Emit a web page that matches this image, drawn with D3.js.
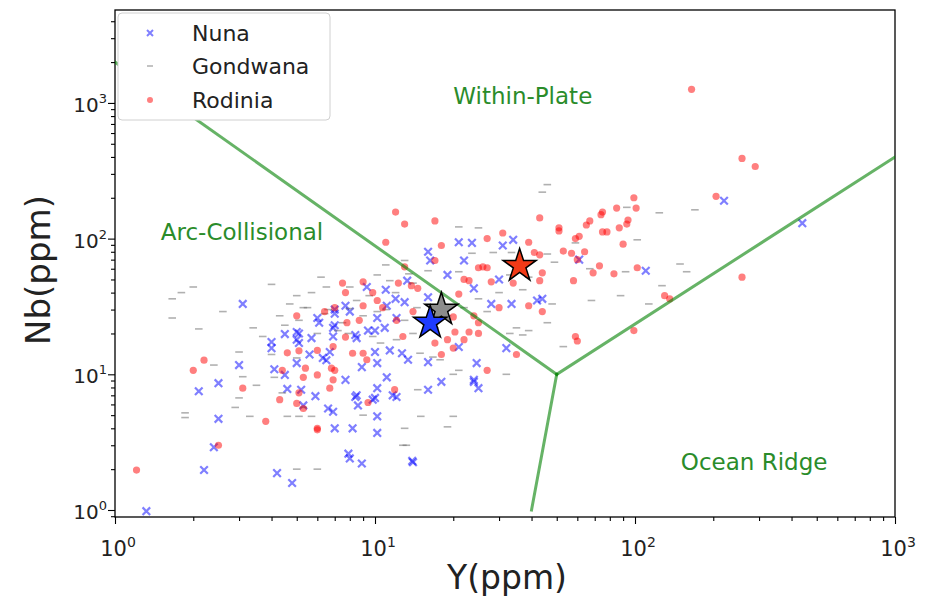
<!DOCTYPE html>
<html>
<head>
<meta charset="utf-8">
<script src="https://cdn.jsdelivr.net/npm/d3@7"></script>
<style>
body { margin: 0; background: #fff; }
text { font-family: "DejaVu Sans", sans-serif; }
</style>
</head>
<body>
<div id="chart"></div>
<script>
// values, [Y ppm, Nb ppm]
var seriesNames = ["Nuna", "Gondwana", "Rodinia"];

var nuna = [
    [220,190],[440,130],[61,70],[110,58],[44,36],
    [21,94],[23.6,93],[31,89],[34,98],[16,80],[16.3,69],[22,69],[19,54],[30,50],[13.3,49],[24,43],
    [11,42],[9.3,44],[12,36],[16,37],[28,33],[33.5,33],[42,35],
    [3.1,33],[6.0,26],[7.0,28],
    [3.0,11.7],[2.5,8.6],[2.1,7.5],[2.5,4.7],[2.4,2.9],[4.0,17.3],[4.0,15.6],[4.1,10.9],[4.5,19.8],
    [5.0,20.5],[5.0,18],[4.6,7.8],[5.2,7.7],[4.5,9.9],[5.3,5.9],[5.9,6.9],[6.6,5.6],[7.0,4.0],[5.0,12.1],
    [6.1,24],[6.9,22],[5.7,18.5],[6.5,12.7],
    [7.0,23],[8.4,19.5],[10,21],[10,14.6],[11.4,15],[12.7,14.3],[13.4,12.8],[16,12.3],[10.2,12.1],[8.9,11.3],
    [7.7,9.1],[11.1,9.5],[10.2,7.9],[12.1,6.8],[8.4,6.8],[8.6,5.9],[9.8,6.5],[16,7.7],[18,8.8],[6.9,5.3],
    [10.2,4.9],[8.2,4.0],[10.2,3.7],[7.9,2.6],[13.9,2.3],[21,15.9],[24.6,12.1],[24,9.1],[25,7.9],[32,15.6],[16.3,24],
    [13,34],[7.7,32],[7.0,30],[8.0,29],[5.1,20],[5.1,17],[11.1,32],[10.2,26],[10.9,22],[12.1,26],[9.4,21],
    [6.9,19],[8.5,18.5],[6.7,14.6],[5.6,14],[6.3,13.2],[8.5,7.0],[10,6.7],[11.7,7.0],[24,8.8],
    [1.32,0.98],[2.2,1.97],[4.2,1.87],[4.8,1.58],[8.0,2.4],[8.9,2.2],[14,2.25]
];

var gondwana = [
    [46,250],[44,220],[124,155],[170,163],[93,170],[102,98],[59,93],[46,77],[49,67],[149,65],[158,57],
    [92,57],[67,60],[127,45],[88,38],[68,35],[113,33],[48,33],[53,16],
    [33.5,79],[23.6,78],[13,69],[16,58],[11,64],[33,54],[39,52],[37,42],[21,57],[14,47],[11.4,49],
    [2.0,44],[1.8,40],[1.66,36],[1.66,26],[2.6,29],[4.0,46],[5.0,38],[5.7,40],[6.2,52],[5.3,31],[4.3,27],
    [2.1,21.6],[3.0,14.6],[2.4,11.7],[3.1,9.6],[3.5,8.3],[3.0,6.7],[2.9,5.7],[1.86,5.2],[1.86,4.8],
    [3.3,4.9],[4.6,4.9],[5.1,4.9],[5.7,4.9],[4.0,14],
    [20,10],[14.6,7.7],[32,10],[15,4.9],[20,4.9],[13,4.0],[19,4.1],[13.2,3.0],[33,20],[37,19.5],[9,5],
    [10.2,54],[5.5,31],[6.6,30],[8,30.5],[6.4,28],[10.2,29],[14.5,31],[17.3,31],[7.2,21],[7.9,20],[9.8,19],
    [12.1,18],[14.9,14.3],[16.7,13.4],[17.8,12.8],[21,10.7],[5.1,25],[5,13.2],[4.1,9.5],[4.4,7.3],[5.3,5.7],
    [3.4,22],[35,22],[39,21],[46,24],[21,122],[25,120],[28.5,79],
    [5.0,2.0],[6.0,2.0],[12.8,3.0],
    [8.5,35],[9.5,38],[11,30],[12,40],[13,25],[9,27],[7.5,24],[6,20],[10.5,17],[14,20],[17,22],[19,27],
    [25,36],[27,29],[30,40],[22,31],[13.5,55],[8,44],[6.5,44],[4.7,33],[4.5,23],[3.7,19]
];

var rodinia = [
    [165,1260],[258,390],[290,340],[205,205],[99,200],[101,168],[85,168],[75,157],[74,150],[67,135],[65,126],
    [94,137],[93,128],[87,120],[75,112],[78,112],[90,91],[51,120],[51,114],[61,104],[59,100],[53,81],[57,78],
    [64,80],[60,70],[73,63],[69,56],[83,55],[102,61],[58,49],[44,56],[44,29],[130,38],[136,36],[99,21],
    [258,52],[59,19],[60,17.6],[43,142],
    [12,157],[13,128],[17,135],[11,94],[18,89],[27,100],[31,110],[39,94],[17,69],[25,61],[26,62],[27,61],
    [23,49],[13,62],[9,48],[7.5,47],[7.7,40],[9.8,40],[14.6,43],[22,50],[28,48],[34,47],[43,49],[21,39],
    [39,32],[30,31],[7,31],[9,32],[10.7,31],[5.0,27],
    [2.2,12.7],[2.0,10.7],[3.1,7.9],[3.8,4.5],[2.5,3.0],[4.6,14.4],[5.1,14.9],[4.3,6.5],[5.0,6.1],[5.3,5.6],
    [6.0,4.0],[6.0,15],[6.8,11.1],[6.7,7.9],[5.3,9.5],
    [7.0,10.7],[6.9,9.1],[11.9,7.7],[9.4,6.2],[7.7,18.8],[8.2,14.3],[9.0,14.3],[17,17],[18,14],[20,15.6],
    [20.3,20.5],[23,20.5],[25,20],[22,18],[27,10.7],[35,14],
    [43,76],[41,79],[12.3,47],[13.8,45],[10.2,35],[6.4,29],[8.7,25],[7.8,24],[12.1,25],[12.8,19],[14,29],
    [20,26.5],[24,27],[19,18],[25,24],[6.9,16],[6,9.9],[5.4,11.1],[4.4,10.7],[5.1,7.3],[9.3,12.8],
    [1.21,1.97],[6,3.9]
];

// group means (stars), same order as seriesNames
var averages = [[16.3, 24], [18, 30], [36, 63]];
var starColors = ["#1f3cff", "#8c8c8c", "#f23a17"];

// Pearce et al. field boundaries
var boundaries = [
    [[1, 2000], [50, 10]],
    [[50, 10], [1000, 400]],
    [[50, 10], [40, 1]]
];
var fieldLabels = ["Within-Plate", "Arc-Collisional", "Ocean Ridge"];
var fieldAnchors = [[20, 1000], [1.5, 100], [150, 2]];

var xMajor = [1, 10, 100, 1000];
var yMajor = [1, 10, 100, 1000];

ScatterPlot = function(_parentElement) {
    this.parentElement = _parentElement;
    this.initVis();
}

ScatterPlot.prototype.initVis = function() {
    var vis = this;

    vis.width = 932;
    vis.height = 599;
    vis.left = 115;
    vis.right = 895;
    vis.top = 10;
    vis.bottom = 517;

    vis.svg = d3.select(vis.parentElement).append("svg")
        .attr("width", vis.width)
        .attr("height", vis.height);

    vis.x = d3.scaleLog().domain([1, 1000]).range([vis.left, vis.right]);
    vis.y = d3.scaleLog().domain([0.888, 4840]).range([vis.bottom, vis.top]);

    vis.svg.append("clipPath").attr("id", "plot-clip")
        .append("rect")
        .attr("x", vis.left).attr("y", vis.top)
        .attr("width", vis.right - vis.left).attr("height", vis.bottom - vis.top);

    vis.drawAxes();

    vis.plot = vis.svg.append("g").attr("clip-path", "url(#plot-clip)");

    // Nuna - blue crosses
    vis.plot.selectAll(".nuna")
        .data(nuna)
        .enter().append("path")
        .attr("class", "nuna")
        .attr("transform", function(d) { return "translate(" + vis.x(d[0]) + "," + vis.y(d[1]) + ")"; })
        .attr("d", "M-3.8,-3.8L3.8,3.8M3.8,-3.8L-3.8,3.8")
        .attr("stroke", "blue")
        .attr("stroke-opacity", 0.5)
        .attr("stroke-width", 2.2);

    // Gondwana - gray dashes
    vis.plot.selectAll(".gondwana")
        .data(gondwana)
        .enter().append("path")
        .attr("class", "gondwana")
        .attr("transform", function(d) { return "translate(" + vis.x(d[0]) + "," + vis.y(d[1]) + ")"; })
        .attr("d", "M-3.8,0L3.8,0")
        .attr("stroke", "#707070")
        .attr("stroke-opacity", 0.55)
        .attr("stroke-width", 1.6);

    // Rodinia - red dots
    vis.plot.selectAll(".rodinia")
        .data(rodinia)
        .enter().append("circle")
        .attr("class", "rodinia")
        .attr("cx", function(d) { return vis.x(d[0]); })
        .attr("cy", function(d) { return vis.y(d[1]); })
        .attr("r", 3.6)
        .attr("fill", "red")
        .attr("fill-opacity", 0.5);

    var line = d3.line()
        .x(function(d) { return vis.x(d[0]); })
        .y(function(d) { return vis.y(d[1]); });

    vis.plot.selectAll(".boundary")
        .data(boundaries)
        .enter().append("path")
        .attr("class", "boundary")
        .attr("d", line)
        .attr("fill", "none")
        .attr("stroke", "green")
        .attr("stroke-opacity", 0.6)
        .attr("stroke-width", 3)
        .attr("stroke-linecap", "square");

    var star = d3.symbol().type(d3.symbolStar).size(340);
    // draw the red one first so blue ends up on top
    var order = [2, 1, 0];
    vis.plot.selectAll(".mean")
        .data(order)
        .enter().append("path")
        .attr("class", "mean")
        .attr("transform", function(i) { return "translate(" + vis.x(averages[i][0]) + "," + vis.y(averages[i][1]) + ")"; })
        .attr("d", star)
        .attr("fill", function(i) { return starColors[i]; })
        .attr("stroke", "black")
        .attr("stroke-width", 1.5)
        .attr("stroke-linejoin", "miter");

    vis.svg.selectAll(".field-label")
        .data(fieldLabels)
        .enter().append("text")
        .attr("class", "field-label")
        .attr("x", function(d, i) { return vis.x(fieldAnchors[i][0]); })
        .attr("y", function(d, i) { return vis.y(fieldAnchors[i][1]) + 1; })
        .attr("fill", "#2a8c2a")
        .attr("font-size", 23)
        .text(function(d) { return d; });

    vis.drawLegend();
}

ScatterPlot.prototype.drawAxes = function() {
    var vis = this;

    var minor = function(scale) {
        var out = [];
        var dom = scale.domain();
        for (var k = -1; k <= 3; k++) {
            for (var m = 2; m <= 9; m++) {
                var v = m * Math.pow(10, k);
                if (v > dom[0] && v < dom[1]) out.push(v);
            }
        }
        return out;
    };

    var xAxisMajor = d3.axisBottom(vis.x).tickValues(xMajor).tickSize(7).tickFormat("");
    var xAxisMinor = d3.axisBottom(vis.x).tickValues(minor(vis.x)).tickSize(4).tickFormat("");
    var yAxisMajor = d3.axisLeft(vis.y).tickValues(yMajor).tickSize(7).tickFormat("");
    var yAxisMinor = d3.axisLeft(vis.y).tickValues(minor(vis.y)).tickSize(4).tickFormat("");

    [xAxisMajor, xAxisMinor].forEach(function(ax) {
        vis.svg.append("g")
            .attr("transform", "translate(0," + vis.bottom + ")")
            .call(ax)
            .call(function(g) { g.select(".domain").remove(); })
            .selectAll("line").attr("stroke", "#000").attr("stroke-width", 1.1);
    });
    [yAxisMajor, yAxisMinor].forEach(function(ax) {
        vis.svg.append("g")
            .attr("transform", "translate(" + vis.left + ",0)")
            .call(ax)
            .call(function(g) { g.select(".domain").remove(); })
            .selectAll("line").attr("stroke", "#000").attr("stroke-width", 1.1);
    });

    vis.svg.append("rect")
        .attr("x", vis.left).attr("y", vis.top)
        .attr("width", vis.right - vis.left).attr("height", vis.bottom - vis.top)
        .attr("fill", "none")
        .attr("stroke", "#000")
        .attr("stroke-width", 1.3);

    // tick labels as 10 with superscript exponent
    var xl = vis.svg.selectAll(".xlabel")
        .data(xMajor)
        .enter().append("text")
        .attr("class", "xlabel")
        .attr("x", function(d) { return vis.x(d) + 3; })
        .attr("y", vis.bottom + 39)
        .attr("text-anchor", "middle")
        .attr("font-size", 21)
        .attr("fill", "#222");
    xl.append("tspan").text("10");
    xl.append("tspan").attr("dy", -9).attr("font-size", 14).text(function(d) { return Math.round(Math.log10(d)); });

    var yl = vis.svg.selectAll(".ylabel")
        .data(yMajor)
        .enter().append("text")
        .attr("class", "ylabel")
        .attr("x", vis.left - 8)
        .attr("y", function(d) { return vis.y(d) + 9; })
        .attr("text-anchor", "end")
        .attr("font-size", 20)
        .attr("fill", "#222");
    yl.append("tspan").text("10");
    yl.append("tspan").attr("dy", -9).attr("font-size", 13).text(function(d) { return Math.round(Math.log10(d)); });

    vis.svg.append("text")
        .attr("x", (vis.left + vis.right) / 2 + 2)
        .attr("y", 589)
        .attr("text-anchor", "middle")
        .attr("font-size", 33)
        .attr("fill", "#222")
        .text("Y(ppm)");

    vis.svg.append("text")
        .attr("transform", "translate(50,270) rotate(-90)")
        .attr("text-anchor", "middle")
        .attr("font-size", 34)
        .attr("fill", "#222")
        .text("Nb(ppm)");
}

ScatterPlot.prototype.drawLegend = function() {
    var vis = this;

    var lg = vis.svg.append("g").attr("class", "legend");
    lg.append("rect")
        .attr("x", 118).attr("y", 13)
        .attr("width", 212).attr("height", 107)
        .attr("rx", 4)
        .attr("fill", "#fff")
        .attr("stroke", "#d0d0d0");

    var rowY = [33, 66, 100];
    seriesNames.forEach(function(name, i) {
        var g = lg.append("g").attr("transform", "translate(150," + rowY[i] + ")");
        if (i === 0) {
            g.append("path").attr("d", "M-3,-3L3,3M3,-3L-3,3")
                .attr("stroke", "blue").attr("stroke-opacity", 0.5).attr("stroke-width", 2);
        } else if (i === 1) {
            g.append("path").attr("d", "M-3,0L3,0")
                .attr("stroke", "#707070").attr("stroke-opacity", 0.55).attr("stroke-width", 1.5);
        } else {
            g.append("circle").attr("r", 3).attr("fill", "red").attr("fill-opacity", 0.5);
        }
        lg.append("text")
            .attr("x", 192)
            .attr("y", rowY[i] + 8)
            .attr("font-size", 22)
            .attr("fill", "#222")
            .text(name);
    });
}

new ScatterPlot("#chart");
</script>
</body>
</html>
